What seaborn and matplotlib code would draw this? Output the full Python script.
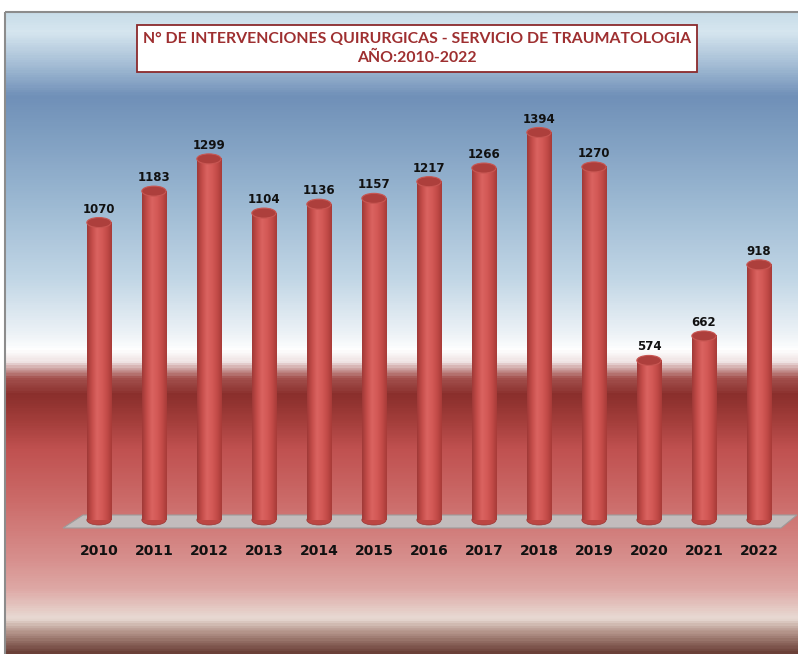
import numpy as np
import pandas as pd
import seaborn as sns
import matplotlib.pyplot as plt
from matplotlib.colors import LinearSegmentedColormap, to_rgb
from matplotlib.patches import Ellipse, Polygon, Rectangle

# data
years = ["2010", "2011", "2012", "2013", "2014", "2015", "2016",
         "2017", "2018", "2019", "2020", "2021", "2022"]
interventions = [1070, 1183, 1299, 1104, 1136, 1157, 1217,
                 1266, 1394, 1270, 574, 662, 918]
title_lines = ["N° DE INTERVENCIONES QUIRURGICAS - SERVICIO DE TRAUMATOLOGIA",
               "AÑO:2010-2022"]

df = pd.DataFrame({"year": years, "total": interventions})

sns.set_style("white")
plt.rcParams["font.family"] = ["DejaVu Sans"]

W, H = 798, 654
fig = plt.figure(figsize=(W / 100, H / 100), dpi=100)
fig.patch.set_facecolor("white")

# background panel with vertical gradient (blue sky -> red band -> brown)
bg = fig.add_axes([0, 0, 1, 1])
bg.set_xlim(0, W)
bg.set_ylim(H, 0)
bg.axis("off")

stops = [(12, "#c9dde9"), (30, "#d6e6ef"), (60, "#a9c1d8"), (95, "#7090b8"),
         (130, "#7d9dc0"), (200, "#9bb8d2"), (280, "#c2d7e6"), (335, "#eef3f7"),
         (350, "#ffffff"), (362, "#efe3e3"), (378, "#a4524f"), (395, "#8a2f2c"),
         (420, "#a23d3a"), (450, "#c05150"), (500, "#cb6a68"), (560, "#d78f8d"),
         (590, "#dea8a5"), (620, "#e8dad3"), (634, "#b39389"), (654, "#6b4038")]
top, bot = stops[0][0], stops[-1][0]
bg_cmap = LinearSegmentedColormap.from_list(
    "bg", [((y - top) / (bot - top), to_rgb(c)) for y, c in stops])
grad = np.linspace(0, 1, 600).reshape(-1, 1)
bg.imshow(grad, cmap=bg_cmap, aspect="auto", extent=[5, W, bot, top], zorder=0)
bg.add_patch(Rectangle((5, 12), W, H, fill=False, edgecolor="#8c8c8c", lw=1.5, zorder=1))

# floor
bg.add_patch(Polygon([(63, 528), (83, 515), (797, 515), (781, 528)],
                     closed=True, facecolor="#c2bcbc", edgecolor="#9e9a9a",
                     lw=0.8, zorder=2))

# title box
bg.add_patch(Rectangle((137, 25), 560, 47, facecolor="white",
                       edgecolor="#8b2a2c", lw=1.3, zorder=3))
bg.text(417, 39, title_lines[0], ha="center", va="center", fontsize=11.4,
        fontweight="bold", color="#9e2f30", family=["Lato", "DejaVu Sans"], zorder=4)
bg.text(417, 58, title_lines[1], ha="center", va="center", fontsize=11.4,
        fontweight="bold", color="#9e2f30", family=["Lato", "DejaVu Sans"], zorder=4)

# bar axes
y0_px, y1_px = 520, 90
ax = fig.add_axes([50 / W, (H - y0_px) / H, (798 - 50) / W, (y0_px - y1_px) / H])
ax.patch.set_alpha(0)
px_per_unit = 0.278
ymax = (y0_px - y1_px) / px_per_unit

sns.barplot(data=df, x="year", y="total", color="#c8504c", width=0.44,
            saturation=1, ax=ax, zorder=2)

cyl_cmap = LinearSegmentedColormap.from_list(
    "cyl", ["#a03937", "#c54d4a", "#da6360", "#d45a57", "#c44c49", "#a83b38"])
shade = np.linspace(0, 1, 64).reshape(1, -1)
ell_h = 10 / px_per_unit

for p in ax.patches:
    x0, w, h = p.get_x(), p.get_width(), p.get_height()
    xc = x0 + w / 2
    p.set_visible(False)
    # bottom rounded end
    ax.add_patch(Ellipse((xc, 0), w, ell_h, facecolor="#bc4642",
                         edgecolor="#9a3533", lw=0.5, zorder=2, clip_on=False))
    # body
    ax.imshow(shade, cmap=cyl_cmap, aspect="auto",
              extent=[x0, x0 + w, 0, h], zorder=3)
    # top face
    ax.add_patch(Ellipse((xc, h), w, ell_h, facecolor="#ad3f3c",
                         edgecolor="#c85652", lw=0.8, zorder=4))
    ax.annotate(f"{int(round(h))}", xy=(xc, h), xytext=(0, 5),
                textcoords="offset points", ha="center", va="bottom",
                fontsize=8.5, fontweight="bold", color="#111111")

ax.set_xlim(-0.89, 12.71)
ax.set_ylim(0, ymax)
ax.set_yticks([])
ax.set_xlabel("")
ax.set_ylabel("")
ax.tick_params(axis="x", length=0, pad=17)
for lab in ax.get_xticklabels():
    lab.set_fontsize(10)
    lab.set_fontweight("bold")
    lab.set_color("#111111")
sns.despine(ax=ax, left=True, bottom=True)

fig.savefig("out.png", dpi=100)
plt.close(fig)
